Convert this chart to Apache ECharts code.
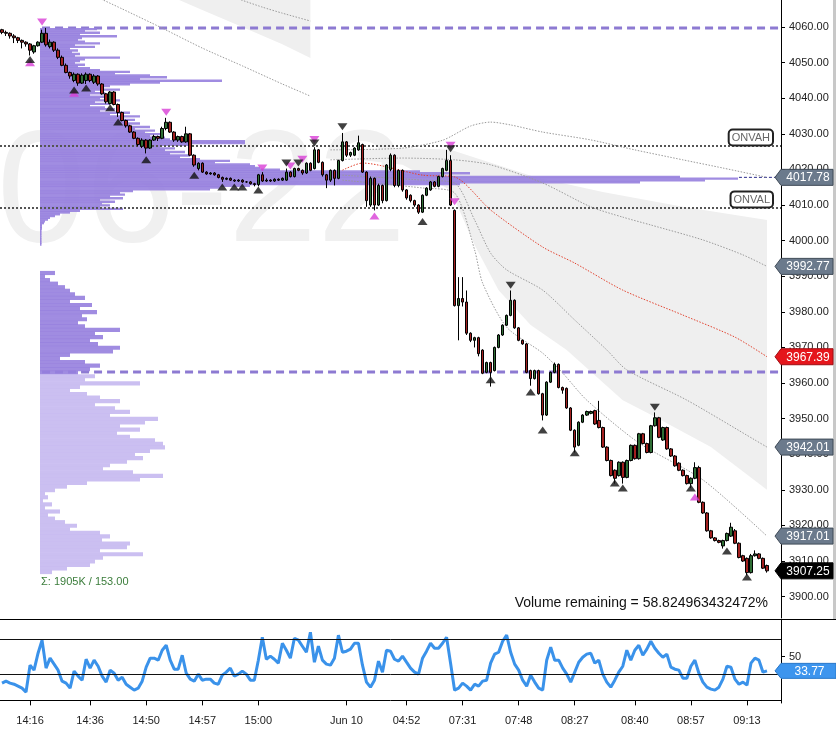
<!DOCTYPE html>
<html>
<head>
<meta charset="utf-8">
<script src="https://cdn.jsdelivr.net/npm/echarts@6/dist/echarts.min.js"></script>
<style>
html,body{margin:0;padding:0;background:#fff;overflow:hidden}
#chart{width:836px;height:732px}
</style>
</head>
<body>
<div id="chart"></div>
<script>
// ---------------- DATA ----------------
const SLOT_COUNT = 195;

const opens = [
4059.25,4058.5,4058.25,4057.5,4057,4056.25,4055.75,4055.25,4053,4054.75,
4055.75,4058.25,4054.5,4055.75,4053.5,4051.5,4049.25,4047.25,4045,4046.75,
4044.25,4045,4046.75,4044.5,4046.25,4044,4041.25,4038.5,4041.75,4038.25,
4036,4033.75,4032.25,4030.5,4028.75,4026.5,4028.25,4026,4028.25,4029.25,
4028.75,4031.5,4033.25,4030.5,4028.25,4029.25,4027.75,4030,4024,4020.25,
4021.75,4019.25,4018.75,4019,4018.5,4017.75,4017.25,4017.5,4017,4016.75,
4017,4016.5,4016.5,4016,4015.75,4018.5,4016.75,4017,4016.75,4017.25,
4017,4017,4019.25,4018,4020.25,4019.75,4019,4021.75,4020.25,4025.5,
4022,4018.5,4017,4019.75,4017.5,4022.5,4027.75,4024,4024,4025.5,
4027,4019.25,4010,4017.5,4010,4015.5,4011.25,4020,4024,4015.5,
4019.75,4014.25,4012.75,4011.25,4010,4008,4012.75,4014.25,4016.5,4015.25,
4018,4019.75,4022.5,4008.5,3981.75,3983.75,3982.75,3974,3972,3972.75,
3969.25,3963,3965.75,3963.5,3970,3973.5,3976.25,3979,3983.25,3975.5,
3972,3971,3963.5,3961.25,3963.5,3957,3951,3960.25,3963,3965.25,
3958.75,3958.5,3953,3946.75,3942.5,3949,3951,3951.5,3952.25,3949.5,
3947.5,3942,3938.25,3935.5,3934,3937.75,3933.5,3938.25,3942.5,3938.75,
3945.75,3943,3940.5,3948,3950.25,3944,3947.5,3941.5,3939.5,3937.5,
3935.5,3934,3931.75,3933.25,3936.25,3926.5,3923.5,3918.5,3916.5,3915.75,
3914.25,3915.75,3917,3918.5,3915,3911.5,3910.75,3906.75,3911.5,3912,
3910.75,3908.75];

const closes = [
4058.5,4058.25,4057.5,4057,4056.25,4055.75,4055.25,4053.5,4054.75,4055.75,
4058.25,4055,4055.75,4053.5,4051.5,4049.25,4047.25,4046.25,4046.75,4044.25,
4046.5,4046.75,4045,4046.25,4044,4041.25,4039,4041.75,4038.25,4036,
4033.75,4032.25,4030.5,4028.75,4027,4028.25,4026,4028.25,4029.25,4028.75,
4031.5,4033.25,4030.5,4028.25,4029.25,4027.75,4030,4024,4021.25,4021.75,
4019.25,4018.75,4019,4018.5,4017.75,4017.25,4017.5,4017,4016.75,4017,
4016.5,4016.5,4016,4015.75,4018.5,4016.75,4017,4016.75,4017.25,4017,
4017.5,4019.25,4018,4020.25,4019.75,4019,4021.75,4019.75,4025.5,4022,
4018.5,4017,4019.75,4017.5,4022.5,4027.75,4024,4024.75,4026,4027.5,
4019.25,4011.25,4017.5,4010,4015.5,4011.25,4021.25,4024,4015.5,4019.75,
4014.25,4012,4011.25,4010,4008,4012.75,4014.75,4016.5,4015.25,4018,
4020.25,4022.5,4010,3981.75,3983.75,3982.75,3974,3972,3972.75,3968.25,
3962.75,3965.75,3963,3970,3973.5,3976.25,3979,3983.25,3975.5,3972,
3971,3963,3961.25,3963.5,3957,3951,3960.25,3963,3965.25,3958.75,
3958,3953,3946.75,3942,3949,3951,3952,3952,3948.5,3947.5,
3942,3938.25,3934,3933.25,3937.75,3933.5,3938.25,3942.5,3938.75,3945.75,
3943,3940.5,3948,3950.25,3944.75,3947.5,3941.5,3939.5,3936.75,3935.5,
3934,3931.75,3933.25,3936.25,3926.5,3923.5,3918.5,3916.5,3915.75,3915.25,
3915.75,3917.75,3919.5,3915,3911,3910,3906.75,3911.5,3912,3910.75,
3908,3907.25];

const lows = [
4058,4057.5,4056.75,4055.5,4055.5,4054,4054.5,4052,4052.5,4054.5,
4055.5,4054.5,4054,4053,4051,4049,4047,4045.5,4044.5,4043.5,
4044,4044,4044.5,4044,4043.5,4041,4038.5,4038.25,4038,4034.75,
4033.5,4031.75,4030.25,4028.5,4026.5,4026,4024.5,4025.75,4028,4028,
4028.5,4031,4030.25,4027.75,4027.75,4027.5,4027.5,4023.75,4020.75,4019.75,
4019,4018.5,4018.5,4018.25,4017.5,4016.5,4017,4016.75,4016.5,4016.5,
4016.25,4016.25,4015.75,4015.25,4015.25,4016.5,4016.5,4016.5,4016.5,4016.75,
4016.75,4016.75,4017.75,4017.75,4019.5,4018.5,4018.75,4019.5,4020,4021.75,
4018,4014.75,4016.5,4015.5,4017.25,4022.25,4023.5,4023.5,4023.75,4025.25,
4019,4009.5,4009.5,4008.5,4009.75,4010.5,4011,4019.5,4015,4015,
4013.75,4011.5,4010.75,4009.5,4007.5,4007.75,4012.5,4014,4015,4015,
4017.75,4019.5,4009.75,3981.5,3972,3981.5,3973.5,3971.5,3970,3967.5,
3962.5,3962.75,3959,3963.25,3969.75,3973.25,3976,3978.75,3975.25,3971.75,
3970.75,3962.75,3959.25,3961,3956.75,3949.5,3950.75,3960,3962.75,3958.5,
3957,3952.75,3946.5,3940.5,3942.25,3948.75,3950.75,3951.25,3948.25,3947.25,
3941.75,3938,3933.75,3931.75,3933.75,3931.75,3933.25,3938,3938.5,3938.5,
3942.75,3940.25,3940.25,3947.75,3944.5,3943.75,3941.25,3939.25,3936.5,3935.25,
3933.75,3931.5,3930.5,3933,3926.25,3923.25,3918.25,3916.25,3915.5,3915,
3913.5,3915.5,3916.75,3914.75,3910.75,3909.75,3906,3906.5,3911.25,3910.5,
3907.75,3906.75];

const highs = [
4059.5,4059,4058.5,4058,4057.25,4056.5,4056,4055.5,4055,4056,
4059.25,4059.75,4056.5,4056,4054,4052,4049.75,4047.5,4047.25,4047,
4047,4047.25,4047,4046.75,4046.5,4044.25,4041.5,4042,4042,4038.5,
4036.25,4034,4032.5,4030.75,4029,4028.75,4028.5,4028.5,4029.75,4029.5,
4032,4034.5,4033.5,4030.75,4029.5,4029.5,4032,4030.25,4024.25,4022,
4022,4019.5,4019.25,4019.25,4018.75,4018,4017.75,4017.75,4017.25,4017.25,
4017.25,4016.75,4016.75,4016.25,4018.75,4019.25,4017.5,4017.25,4017.5,4017.5,
4017.75,4020.25,4019.5,4020.5,4020.5,4020,4022,4022,4026.25,4025.75,
4022.25,4018.75,4020,4020,4022.75,4030.25,4028,4025,4026.25,4029.5,
4027.25,4019.5,4018,4017.75,4016,4015.75,4021.5,4024.5,4024.25,4020,
4020,4014.5,4013,4011.5,4010.25,4013,4015,4016.75,4016.75,4018.25,
4020.5,4025.5,4024,4008.75,3989.75,3989.75,3986,3974.25,3973,3973,
3969.5,3966,3966,3970.25,3973.75,3976.5,3979.25,3986,3983.5,3975.75,
3972.25,3971.25,3963.75,3963.75,3963.75,3957.25,3960.5,3963.25,3965.75,3965.5,
3959,3958.75,3953.25,3947,3949.25,3951.25,3952.25,3952.25,3952.5,3955,
3947.75,3942.25,3938.5,3935.75,3938,3938,3938.5,3942.75,3942.75,3946,
3946,3943.25,3948.25,3951.75,3950.5,3947.75,3947.75,3941.75,3939.75,3937.75,
3935.75,3934.25,3933.5,3937.75,3936.75,3926.75,3923.75,3918.75,3916.75,3916,
3916,3918,3920.75,3919,3915.25,3911.75,3911,3912,3913,3912.25,
3911,3909];

const oscValues = [
19.7,22,19.7,18.5,16.3,14,9.5,40.3,34.6,54,
68.9,36.9,48.3,41.5,34.6,22,19.7,14,33.5,27.7,
23.1,47.1,36.9,46,39.1,27.7,20.9,34.6,31.1,23.1,
26.6,18.5,15.1,11.7,14,22,38,48.3,48.3,46,
57.4,63.1,46,35.7,35.7,51.7,31.1,24.3,22,30,
23.1,24.3,24.3,19.7,18.5,28.9,32.3,36.9,27.7,30,
33.5,30,23.1,23.1,46,72.3,47.1,50.6,47.1,42.6,
65.4,57.4,48.3,71.1,68.9,62,55.1,78,43.7,62,
46,41.5,40.3,48.3,74.6,55.1,56.3,58.6,65.4,65.4,
40.3,20.9,15.1,23.1,44.9,32.3,57.4,56.3,47.1,44.9,
50.6,43.7,36.9,32.3,30,48.3,56.3,65.4,59.7,59.7,
65.4,72.3,42.6,11.7,14,19.7,16.3,11.7,18.5,16.3,
22,23.1,42.6,52.9,55.1,67.7,74.6,55.1,41.5,34.6,
23.1,16.3,28.9,20.9,14,11.7,46,60.9,46,46,
36.9,30,20.9,32.3,43.7,49.4,52.9,54,42.6,46,
30,20.9,15.1,23.1,32.3,39.1,57.4,46,57.4,63.1,
51.7,58.6,67.7,59.7,54,49.4,52.9,38,35.7,34.6,
25.4,25.4,39.1,46,31.1,20.9,15.1,12.9,11.7,15.1,
24.3,39.1,38,24.3,18.5,20.9,17.4,42.6,48.3,46,
32.3,33.77];

const tickIdx  = [7, 22, 36, 50, 64, 86, 101, 115, 129, 143, 158, 172, 186];
const tickText = ['14:16','14:36','14:50','14:57','15:00','Jun 10','04:52','07:31','07:48','08:27','08:40','08:57','09:13'];
const priceTicks = [3900,3910,3920,3930,3940,3950,3960,3970,3980,3990,4000,4010,4020,4030,4040,4050,4060];
const oscTicks = [50];
const oscLevels = [70, 30];

// volume profiles (volume per price bin)
const upperProfileTop = 4059.5, upperProfileStep = 0.5;
const upperProfile = [
57,45,60,40,77,42,38,45,60,35, 55,30,38,32,40,35,80,45,40,35,
45,38,50,60,90,75,110,127,100,182, 120,90,70,60,80,55,65,50,75,60,
80,55,70,50,65,75,60,90,70,100, 80,95,85,100,90,110,95,115,105,120,
110,125,130,205,205,150,120,135,125,145, 130,150,140,160,190,175,210,215,220,240,
380,430,400,640,698,665,600,420,210,180, 170,93,80,85,70,83,60,75,62,70,
60,83,40,30,20,15,10,8,5,4, 2,2,2,1.5,1.5,1.5,1.5,1.5,1.5,1.5,1.5,1.5];
const lowerProfileTop = 3991, lowerProfileStep = 1;
const lowerProfile = [
15,5,10,18,25,30,35,45,30,52, 40,57,42,47,38,45,80,55,63,50, 58,80,73,30,20,45,60,50,38,
55,45,100,40,30,47,60,80,55,75, 90,70,118,105,80,100,77,90,115,123,
125,110,95,103,87,70,63,93,123,100, 47,27,15,5,8,3,12,5,20,8,
15,25,37,30,60,70,62,90,87,60, 103,63,55,50,27,12];
const lowerProfileValueAreaTop = 3963;

// horizontal levels
const purpleLevels = [4059.7, 3963.1];
const onvLevels = [4026.6, 4009.2];
const onvNames = ['ONVAH', 'ONVAL'];
const pocLevel = 4017.78;

// session bands [slot, price]
const bandUpper1 = [[82,4025.5],[100,4026.0],[110,4028.2],[117,4032.2],[122,4033.3],[127,4032.5],[135,4030.5],[147,4028.3],[158,4025.5],[170,4022.7],[180,4020.4],[191,4017.78]];
const bandUpper2 = [[82,4022.7],[100,4023.2],[113,4022.7],[122,4021.3],[135,4016.2],[147,4009.5],[155,4006.6],[162,4004.4],[175,4000.2],[185,3996.0],[191,3992.77]];
const vwapLine   = [[85,4019.8],[90,4021.8],[105,4018.4],[113,4017.9],[122,4008.6],[135,3998.2],[143,3993.7],[155,3986.1],[170,3979.1],[183,3972.9],[191,3967.39]];
const bandLower1 = [[85,4018.4],[105,4017.0],[113,4016.2],[118,4005.8],[122,3996.5],[126,3991.8],[135,3986.1],[143,3977.7],[151,3969.3],[156,3963.7],[171,3955.2],[188,3944.0],[191,3942.01]];
const bandLower2 = [[85,4017.0],[105,4014.8],[113,4013.4],[118,3997.4],[120,3988.1],[126,3975.7],[135,3968.4],[140,3962.8],[146,3955.2],[159,3943.2],[175,3932.8],[191,3917.01]];
const prevBandA  = [[22,4069.3],[30,4065.1],[40,4059.7],[50,4054.1],[60,4049.1],[70,4044.0],[77,4040.6]];
const prevBandB  = [[59,4067.9],[65,4065.6],[70,4063.9],[77,4061.7]];
const prevFillLower = [[43,4068.2],[50,4064.8],[60,4060.0],[70,4055.2],[77,4051.3]];
const prevFillUpper = [[43,4080],[77,4080]];
const fillUpper = [[89,4025.5],[100,4026.0],[112,4025.5],[133,4017.9],[150,4013.7],[170,4009.5],[191,4005.8]];
const fillLower = [[89,4022.7],[100,4021.3],[112,4014.2],[118,3998.8],[124,3986.1],[132,3976.3],[141,3969.3],[155,3955.2],[163,3950.5],[177,3942.0],[191,3930.0]];

// swing markers [slot, price]
const upTriMagenta   = [[7,4050.0],[18,4041.4],[93,4006.9],[173,3928.0]];
const upTriBlack     = [[7,4050.9],[18,4042.3],[21,4042.9],[27,4037.3],[29,4033.3],[36,4022.7],[48,4018.4],[55,4015.1],[58,4015.1],[60,4015.1],[64,4014.2],[105,4005.4],[122,3960.9],[132,3957.5],[135,3946.8],[143,3940.4],[153,3931.9],[155,3930.5],[172,3930.5],[181,3912.8],[186,3905.5]];
const downTriMagenta = [[10,4061.4],[41,4036.1],[65,4020.4],[72,4021.0],[75,4022.9],[78,4028.4],[112,4026.8],[113,4010.9]];
const downTriBlack   = [[71,4021.8],[74,4021.8],[78,4027.4],[85,4032.0],[112,4025.8],[127,3987.5],[163,3953.2]];

const volumeText = 'Volume remaining = 58.824963432472%';
const sigmaText = 'Σ: 1905K / 153.00';
const watermarkText = '06-22';

// ---------------- CHART ----------------
const FONT = 'Arial, "Liberation Sans", sans-serif';
const categories = Array.from({length: SLOT_COUNT}, (_, i) => String(i));
const labelAt = {};
tickIdx.forEach((k, j) => { labelAt[k] = tickText[j]; });
const showTick = (idx) => labelAt[idx] !== undefined;

const candleData = opens.map((o, i) => [o, closes[i], lows[i], highs[i]]);

const lastOf = a => a[a.length - 1][1];
const tagValues = [pocLevel, lastOf(bandUpper2), lastOf(vwapLine), lastOf(bandLower1), lastOf(bandLower2), closes[closes.length - 1]];
const tagFills   = ['#6b7a8c', '#6b7a8c', '#e5161c', '#6b7a8c', '#6b7a8c', '#000000'];
const tagStrokes = ['#3f4a57', '#3f4a57', '#9e0d12', '#3f4a57', '#3f4a57', '#000000'];

function polySeries(upper, lower, color, z) {
  return {
    type: 'custom', xAxisIndex: 0, yAxisIndex: 0, z: z, silent: true, clip: true,
    data: [[upper[0][0], upper[0][1]]],
    renderItem: function (params, api) {
      const pts = upper.concat(lower.slice().reverse()).map(d => api.coord(d));
      return { type: 'polygon', shape: { points: pts }, style: { fill: color } };
    }
  };
}

function profileSeries(top, step, vols, colorFn) {
  return {
    type: 'custom', xAxisIndex: 1, yAxisIndex: 0, z: 2, silent: true, clip: true,
    encode: { x: 0, y: 1 },
    data: vols.map((v, k) => [v, top - k * step]),
    renderItem: function (params, api) {
      const v = api.value(0), p = api.value(1);
      const a = api.coord([0, p + step / 2]);
      const b = api.coord([v, p - step / 2]);
      return { type: 'rect', shape: { x: a[0], y: a[1], width: b[0] - a[0], height: b[1] - a[1] + 0.6 },
               style: { fill: colorFn(p) } };
    }
  };
}

function levelSeries(levels, startSlot, style, z) {
  return {
    type: 'custom', xAxisIndex: 0, yAxisIndex: 0, z: z, silent: true, clip: false,
    encode: { x: 0, y: 1 },
    data: levels.map(p => [startSlot < 0 ? 0 : startSlot, p]),
    renderItem: function (params, api) {
      const cs = params.coordSys;
      const pt = api.coord([api.value(0), api.value(1)]);
      const x1 = startSlot < 0 ? cs.x : pt[0];
      return { type: 'line', shape: { x1: x1, y1: pt[1], x2: cs.x + cs.width, y2: pt[1] }, style: style };
    }
  };
}

function bandLine(data, color) {
  return {
    type: 'line', xAxisIndex: 0, yAxisIndex: 0, z: 3, silent: true, data: data,
    symbol: 'none', smooth: 0.25, clip: true,
    lineStyle: { color: color, width: 1, type: [1.5, 1.5] }
  };
}

function triSeries(data, color, down) {
  return {
    type: 'scatter', xAxisIndex: 0, yAxisIndex: 0, z: 6, silent: true,
    symbol: 'triangle', symbolSize: [10, 7], symbolRotate: down ? 180 : 0,
    itemStyle: { color: color }, data: data
  };
}

function tagSeries(values, fills, strokes, width, xAxisIndex, yAxisIndex, h) {
  return {
    type: 'custom', xAxisIndex: xAxisIndex, yAxisIndex: yAxisIndex, z: 10, silent: true, clip: false,
    encode: { x: 0, y: 1 },
    data: values.map(v => [0, v]),
    renderItem: function (params, api) {
      const i = params.dataIndex;
      const cs = params.coordSys;
      const y = api.coord([0, values[i]])[1];
      const x = cs.x + cs.width;
      return {
        type: 'group',
        children: [
          { type: 'polygon', shape: { points: [[x - 6, y], [x, y - h], [x + width, y - h], [x + width, y + h], [x, y + h]] },
            style: { fill: fills[i], stroke: strokes[i], lineWidth: 1 } },
          { type: 'text', style: { text: values[i].toFixed(2), x: x + width / 2 + 1, y: y + 0.5,
            align: 'center', verticalAlign: 'middle', fill: '#fff', font: '12px ' + FONT } }
        ]
      };
    }
  };
}

const option = {
  animation: false,
  backgroundColor: '#ffffff',
  textStyle: { fontFamily: FONT },
  grid: [
    { left: 0, right: 55, top: 0, height: 618, containLabel: false, outerBoundsMode: 'none' },
    { left: 0, right: 55, top: 620, height: 83, containLabel: false, outerBoundsMode: 'none' }
  ],
  xAxis: [
    { type: 'category', gridIndex: 0, data: categories, boundaryGap: true, show: false },
    { type: 'value', gridIndex: 0, min: -40, max: 741, show: false },
    { type: 'category', gridIndex: 1, data: categories, boundaryGap: true,
      axisLine: { show: true, lineStyle: { color: '#000', width: 1 } },
      axisTick: { show: true, alignWithLabel: true, interval: (i) => showTick(i), length: 5, lineStyle: { color: '#000' } },
      axisLabel: { interval: (i) => showTick(i), formatter: (v) => labelAt[+v] || '', color: '#222', fontSize: 11, margin: 12 },
      splitLine: { show: false } }
  ],
  yAxis: [
    { type: 'value', gridIndex: 0, position: 'right', min: 3894, max: 4067.6,
      axisLine: { show: true, onZero: false, lineStyle: { color: '#000', width: 1 } },
      axisTick: { show: true, length: 4, customValues: priceTicks, lineStyle: { color: '#000' } },
      axisLabel: { customValues: priceTicks, formatter: (v) => Number(v).toFixed(2), color: '#222', fontSize: 11, margin: 8 },
      splitLine: { show: false } },
    { type: 'value', gridIndex: 1, position: 'right', min: -3, max: 92,
      axisLine: { show: true, onZero: false, lineStyle: { color: '#000', width: 1 } },
      axisTick: { show: true, length: 4, customValues: oscTicks, lineStyle: { color: '#000' } },
      axisLabel: { customValues: oscTicks, color: '#222', fontSize: 11, margin: 8 },
      splitLine: { show: false } }
  ],
  graphic: [
    { type: 'text', x: -3, y: 197, z: 0, silent: true,
      style: { text: watermarkText, font: '160px "Liberation Sans", Arial', fill: '#f0f0f0', align: 'left', verticalAlign: 'middle' } },
    { type: 'rect', shape: { x: 833, y: 0, width: 3, height: 619 }, style: { fill: '#c8c8c8' }, silent: true },
    { type: 'line', shape: { x1: 0, y1: 619.5, x2: 836, y2: 619.5 }, style: { stroke: '#000', lineWidth: 1 }, silent: true },
    { type: 'text', x: 768, y: 603, silent: true,
      style: { text: volumeText, font: '14px ' + FONT, fill: '#111', align: 'right', verticalAlign: 'middle' } },
    { type: 'text', x: 41, y: 582, silent: true,
      style: { text: sigmaText, font: '11px ' + FONT, fill: '#3b7d3b', align: 'left', verticalAlign: 'middle' } }
  ],
  series: [
    polySeries(prevFillUpper, prevFillLower, '#efefef', 1),
    polySeries(fillUpper, fillLower, '#efefef', 1),
    levelSeries(purpleLevels, 10, { stroke: '#8d7ad2', lineWidth: 3, lineDash: [8, 5] }, 1.5),
    profileSeries(upperProfileTop, upperProfileStep, upperProfile, () => 'rgba(150,128,222,0.9)'),
    profileSeries(lowerProfileTop, lowerProfileStep, lowerProfile,
      (p) => p >= lowerProfileValueAreaTop ? 'rgba(150,128,222,0.9)' : 'rgba(200,188,240,0.95)'),
    bandLine(prevBandA, '#9a9a9a'),
    bandLine(prevBandB, '#9a9a9a'),
    bandLine(bandUpper1, '#9a9a9a'),
    bandLine(bandUpper2, '#9a9a9a'),
    bandLine(vwapLine, '#e2432f'),
    bandLine(bandLower1, '#9a9a9a'),
    bandLine(bandLower2, '#9a9a9a'),
    levelSeries(onvLevels, -1, { stroke: '#555', lineWidth: 2, lineDash: [2, 2] }, 3),
    levelSeries([pocLevel], 184, { stroke: '#2b2b8c', lineWidth: 1, lineDash: [3, 2] }, 3),
    {
      type: 'candlestick', xAxisIndex: 0, yAxisIndex: 0, z: 5, silent: true,
      barWidth: 3, data: candleData,
      itemStyle: { color: '#2f6e35', color0: '#a3201f', borderColor: '#000', borderColor0: '#000', borderColorDoji: '#000', borderWidth: 1 }
    },
    triSeries(upTriMagenta, '#d83fd6', false),
    triSeries(upTriBlack, '#111', false),
    triSeries(downTriMagenta, '#d83fd6', true),
    triSeries(downTriBlack, '#111', true),
    {
      type: 'custom', xAxisIndex: 0, yAxisIndex: 0, z: 8, silent: true, clip: false,
      encode: { x: 0, y: 1 },
      data: onvLevels.map(p => [0, p]),
      renderItem: function (params, api) {
        const cs = params.coordSys;
        const y = api.coord([0, onvLevels[params.dataIndex]])[1];
        return { type: 'text', style: {
          text: onvNames[params.dataIndex], x: cs.x + cs.width - 9, y: y - 1.5,
          align: 'right', verticalAlign: 'bottom', fill: '#666', font: '11px ' + FONT,
          backgroundColor: '#fff', borderColor: '#222', borderWidth: 2, borderRadius: 3, padding: [2, 2, 1, 2] } };
      }
    },
    tagSeries(tagValues, tagFills, tagStrokes, 52, 0, 0, 8),
    {
      type: 'line', xAxisIndex: 2, yAxisIndex: 1, z: 4, silent: true, data: oscValues,
      symbol: 'none', lineStyle: { color: '#3a92ea', width: 3 },
      markLine: { silent: true, symbol: 'none', label: { show: false }, animation: false,
        lineStyle: { color: '#111', width: 1, type: 'solid' },
        data: oscLevels.map(v => ({ yAxis: v })) }
    },
    tagSeries([oscValues[oscValues.length - 1]], ['#3d95ee'], ['#2a78c8'], 55, 2, 1, 7.5)
  ]
};

const chart = echarts.init(document.getElementById('chart'), null, { renderer: 'canvas' });
chart.setOption(option);
</script>
</body>
</html>
